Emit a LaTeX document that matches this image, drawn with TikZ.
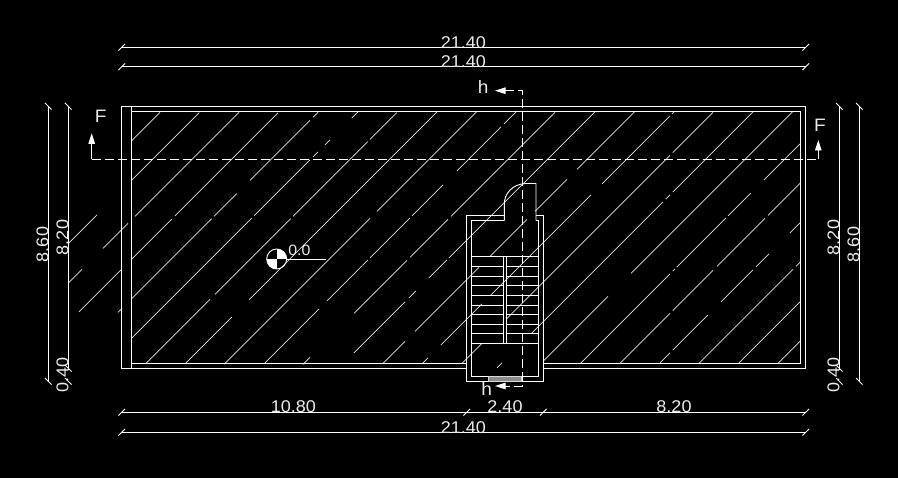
\documentclass[tikz,border=0pt]{standalone}
\usepackage{fontspec}
\setmainfont[FakeStretch=1.06]{Liberation Sans}
\usetikzlibrary{arrows.meta}
\tikzset{planline/.style={draw=white, line width=0.9pt}}
\tikzset{hatchline/.style={draw=white!90!black, line width=0.8pt}}
\tikzset{dimline/.style={draw=white, line width=0.9pt}}
\tikzset{cutline/.style={draw=white, line width=0.9pt, dash pattern=on 9pt off 4pt}}
\tikzset{cutarrow/.style={draw=white, fill=white, line width=0.9pt, -{Triangle[length=10.5pt,width=6.5pt]}}}
\tikzset{dimlabel/.style={text=white!92!black, inner sep=0pt, font=\fontsize{17}{17}\selectfont}}
\tikzset{cutlabel/.style={text=white!92!black, inner sep=0pt, font=\fontsize{18}{18}\selectfont}}

\begin{document}
\begin{tikzpicture}[x=1pt, y=-1pt]

      \fill[black] (0,0) rectangle (898,478);
      \useasboundingbox (0,0) rectangle (898,478);

      % HATCH

      \foreach \k/\xa/\xb in {
        0/131.7/160,
        1/68/97, 1/131.7/199.3,
        2/68/82, 2/103/128, 2/135/239,
        3/79/121, 3/131.7/171.7, 3/175/278,
        4/118/122, 4/131.7/211.7, 4/214/236.7, 4/250/310, 4/313.3/318,
        5/131.7/251.7, 5/254.3/310, 5/313/318, 5/325/330, 5/351.7/358.3,
        6/146/210, 6/215/290.7, 6/293/367.7, 6/370/396.7,
        7/185/231.7, 7/249.3/436.7,
        8/224.3/370, 8/377/477,
        9/264/319, 9/327.3/362.3, 9/362.5/368, 9/370/410, 9/412/443, 9/457/501, 9/504/517,
        10/303/310, 10/354/407, 10/410/448, 10/451/555,
        11/354/405, 11/409/416, 11/429/447, 11/449/595,
        12/383/405, 12/415/479, 12/490/527, 12/535/567, 12/577/635,
        13/421.7/428, 13/441/482, 13/491/591, 13/602/670, 13/672/674,
        14/462/482, 14/506.7/670, 14/672.7/713,
        15/497/502, 15/531.7/663, 15/665.7/670, 15/672.7/753,
        16/543/608, 16/631/793.3,
        17/580/670, 17/672.7/675, 17/676.7/725.7, 17/728/750.7, 17/764/800,
        18/620/670, 18/672.7/713, 18/717/765, 18/768/800,
        19/660/670, 19/672.7/707.7, 19/721/753, 19/756/769, 19/790/800,
        20/699/793, 20/796/800,
        21/739/800,
        22/778/800}
        \draw[hatchline] ({\xa},{272.4+39.5*\k-\xa}) -- ({\xb},{272.4+39.5*\k-\xb});

      % ROOF OUTLINE

      \draw[planline] (466.7,368.3) -- (121.7,368.3) -- (121.7,106.3) -- (805.7,106.3) -- (805.7,368.3) -- (543.3,368.3);
      \draw[planline] (466.7,363.3) -- (131.7,363.3) -- (131.7,111.3) -- (800.7,111.3) -- (800.7,363.3) -- (543.3,363.3);
      \draw[planline] (131.7,106.3) -- (131.7,368.3);

      % STAIR BOX AND DOOR

      \draw[planline] (504.3,215.3) -- (466.7,215.3) -- (466.7,381.7) -- (543.3,381.7) -- (543.3,215.3) -- (536,215.3);
      \draw[planline] (504.3,220.7) -- (471.7,220.7) -- (471.7,376.7) -- (538.7,376.7) -- (538.7,220.7) -- (536,220.7);
      \draw[planline] (504.3,220.7) -- (504.3,204) .. controls (504.3,194) and (512,184) .. (526,183.5) -- (536,183.5) -- (536,220.7);
      \draw[draw=white!85!black, fill=white!55!black, line width=0.9pt] (488.3,376.7) rectangle (521,381);

      % TREADS

      \foreach \y in {266.3,276,285.7,295.3,305,314.3,324,333.3} {
        \draw[planline] (471.7,\y) -- (503.3,\y);
        \draw[planline] (506.7,\y) -- (538.7,\y);
      }
      \draw[planline] (471.7,256.7) -- (538.7,256.7);
      \draw[planline] (471.7,343) -- (538.7,343);
      \draw[planline] (503.3,256.7) -- (503.3,343);
      \draw[planline] (506.7,256.7) -- (506.7,343);

      % CUT LINES

      \draw[cutline] (91.7,159.3) -- (818.3,159.3);
      \draw[cutarrow] (91.7,159.3) -- (91.7,133.3);
      \draw[cutarrow] (818.3,159.3) -- (818.3,140);
      \draw[cutline] (505,90.7) -- (522.3,90.7) -- (522.3,386) -- (505,386);
      \draw[cutarrow] (505,90.7) -- (495,90.7);
      \draw[cutarrow] (505,386) -- (495,386);

      \node[cutlabel] (labelFa) at (100.7,116) {F};
      \node[cutlabel] (labelFb) at (820,125) {F};
      \node[cutlabel] (labelHa) at (483.3,87) {h};
      \node[cutlabel] (labelHb) at (486.7,389) {h};

      % LEVEL MARK

      \begin{scope}
        \clip (276.7,259) circle[radius=10];
        \fill[white] (266.7,259) rectangle (276.7,269);
        \fill[white] (276.7,249) rectangle (286.7,259);
      \end{scope}
      \draw[planline] (276.7,259) circle[radius=10];
      \draw[planline] (286.7,259) -- (325.7,259);
      \node[dimlabel, font=\fontsize{15}{15}\selectfont] (levelzero) at (299.3,250) {0.0};

      % DIMENSIONS

      \foreach \y in {47.3,66.7,432.3} {
        \draw[dimline] (121.7,\y) -- (805.7,\y);
        \draw[dimline] (118.4,\y+3.3) -- (125,\y-3.3);
        \draw[dimline] (802.4,\y+3.3) -- (809,\y-3.3);
      }
      \draw[dimline] (121.7,412.3) -- (805.7,412.3);
      \foreach \x in {121.7,466.7,543.3,805.7}
        \draw[dimline] (\x-3.3,415.6) -- (\x+3.3,409);

      \foreach \x in {48.3,859.3} {
        \draw[dimline] (\x,106.3) -- (\x,381.3);
        \draw[dimline] (\x-3.3,378) -- (\x+3.3,384.6);
      }
      \foreach \x in {68.3,839.3} {
        \draw[dimline] (\x,106.3) -- (\x,370);
        \draw[dimline] (\x-3.3,365) -- (\x+3.3,371.6);
        \draw[dimline] (\x-3.3,378) -- (\x+3.3,384.6);
      }
      \foreach \x in {48.3,68.3,839.3,859.3}
        \draw[dimline] (\x-3.3,103) -- (\x+3.3,109.6);

      \node[dimlabel] (dimtopa) at (463.3,42.7) {21.40};
      \node[dimlabel] (dimtopb) at (463.3,61.7) {21.40};
      \node[dimlabel] (dimbota) at (293.3,406.7) {10.80};
      \node[dimlabel] (dimbotb) at (505,406.7) {2.40};
      \node[dimlabel] (dimbotc) at (674,406.7) {8.20};
      \node[dimlabel] (dimbotd) at (463.3,427.3) {21.40};

      \node[dimlabel, rotate=90] (dimlefta) at (42.5,244.5) {8.60};
      \node[dimlabel, rotate=90] (dimleftb) at (62.5,237.5) {8.20};
      \node[dimlabel, rotate=90] (dimleftc) at (62.5,375) {0.40};
      \node[dimlabel, rotate=90] (dimrighta) at (853.5,244.5) {8.60};
      \node[dimlabel, rotate=90] (dimrightb) at (833.5,237.5) {8.20};
      \node[dimlabel, rotate=90] (dimrightc) at (833.5,375) {0.40};
    \end{tikzpicture}
\end{document}
